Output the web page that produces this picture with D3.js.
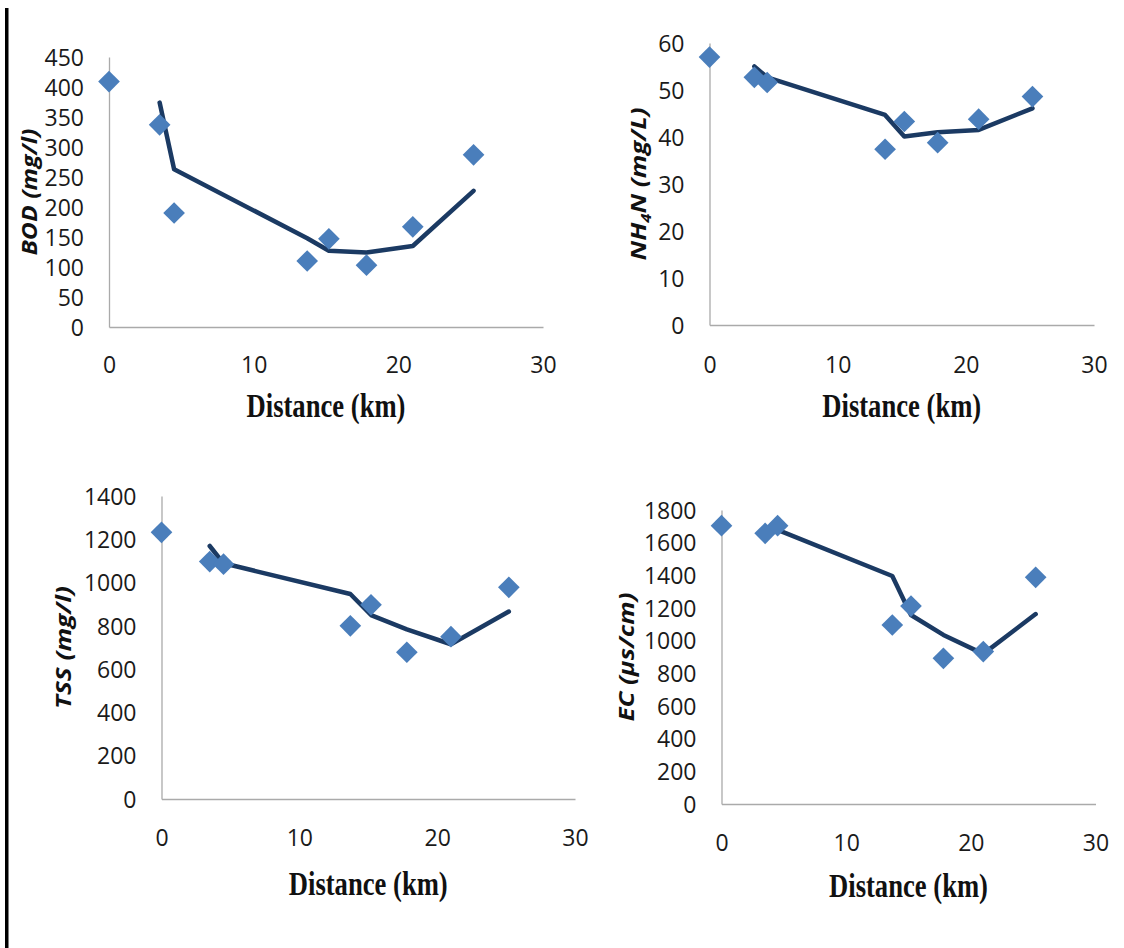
<!DOCTYPE html>
<html>
<head>
<meta charset="utf-8">
<script src="https://cdn.jsdelivr.net/npm/d3@7"></script>
<style>
  body { margin: 0; background: #fff; }
  svg { display: block; }
</style>
</head>
<body>
<div id="chart"></div>
<script>
"use strict";

// sampling points along the river (km)
var distance = [0, 3.5, 4.5, 13.7, 15.2, 17.8, 21.0, 25.2];
var trendDistance = [3.5, 4.5, 13.7, 15.2, 17.8, 21.0, 25.2];
var xTicks = [0, 10, 20, 30];

// measured values
var bod = [409, 337, 190, 110, 147, 103, 167, 287];
var nh4 = [57.0, 52.7, 51.6, 37.4, 43.3, 38.8, 43.8, 48.6];
var tss = [1232, 1097, 1085, 800, 897, 678, 750, 978];
var ec = [1704, 1657, 1704, 1096, 1212, 892, 933, 1388];

// trend lines
var bodTrend = [374, 263, 148, 127, 124, 135, 227];
var nh4Trend = [55.0, 52.7, 44.7, 40.1, 41.0, 41.5, 46.1];
var tssTrend = [1169, 1089, 947, 850, 784, 715, 866];
var ecTrend = [1678, 1678, 1396, 1157, 1035, 919, 1163];

// y tick labels
var bodTicks = [0, 50, 100, 150, 200, 250, 300, 350, 400, 450];
var nh4Ticks = [0, 10, 20, 30, 40, 50, 60];
var tssTicks = [0, 200, 400, 600, 800, 1000, 1200, 1400];
var ecTicks = [0, 200, 400, 600, 800, 1000, 1200, 1400, 1600, 1800];

var W = 1124, H = 948;

var svg = d3.select("#chart").append("svg")
  .attr("width", W)
  .attr("height", H);

// black rule on the left edge
svg.append("rect")
  .attr("x", 5).attr("y", 8)
  .attr("width", 3.5).attr("height", H - 8)
  .attr("fill", "#000");

// panel layout (pixels)
var panels = [
  { x0: 109, x1: 543, y0: 327, y1: 57, ticks: bodTicks, vals: bod, trend: bodTrend,
    title: "BOD (mg/l)", tx: 29, tLen: 127, xlY: 38, xtY: 78 },
  { x0: 709.5, x1: 1094, y0: 325, y1: 43, ticks: nh4Ticks, vals: nh4, trend: nh4Trend,
    title: "nh4", tx: 638, tLen: 153, xlY: 40, xtY: 80 },
  { x0: 161.5, x1: 575, y0: 799, y1: 496, ticks: tssTicks, vals: tss, trend: tssTrend,
    title: "TSS (mg/l)", tx: 63, tLen: 123, xlY: 39, xtY: 84 },
  { x0: 721.5, x1: 1095.5, y0: 804, y1: 510, ticks: ecTicks, vals: ec, trend: ecTrend,
    title: "EC (\u00b5s/cm)", tx: 626, tLen: 129, xlY: 39, xtY: 81 }
];

var diamond = d3.symbol().type(d3.symbolSquare).size(235);
var fmt = d3.format("d");

panels.forEach(function(p) {
  var x = d3.scaleLinear().domain([0, 30]).range([p.x0, p.x1]);
  var y = d3.scaleLinear().domain([0, d3.max(p.ticks)]).range([p.y0, p.y1]);

  var g = svg.append("g");

  // y axis
  var ya = g.append("g")
    .attr("transform", "translate(" + p.x0 + ",0)")
    .call(d3.axisLeft(y).tickValues(p.ticks).tickFormat(fmt)
      .tickSize(0).tickSizeOuter(0).tickPadding(25));
  ya.select(".domain").attr("stroke", "#aaaaaa").attr("stroke-width", 1.3);
  ya.selectAll("text")
    .attr("font-family", "'Open Sans', sans-serif")
    .attr("font-size", "23px")
    .attr("fill", "#1a1a1a")
    .attr("dy", "0.36em");

  // x axis
  var xa = g.append("g")
    .attr("transform", "translate(0," + p.y0 + ")")
    .call(d3.axisBottom(x).tickValues(xTicks).tickFormat(fmt)
      .tickSize(0).tickSizeOuter(0));
  xa.select(".domain").attr("stroke", "#aaaaaa").attr("stroke-width", 1.3);
  xa.selectAll("text")
    .attr("font-family", "'Open Sans', sans-serif")
    .attr("font-size", "23px")
    .attr("fill", "#1a1a1a")
    .attr("y", p.xlY)
    .attr("dy", "0.36em");

  // x title
  g.append("text")
    .attr("x", (p.x0 + p.x1) / 2)
    .attr("y", p.y0 + p.xtY)
    .attr("dy", "0.35em")
    .attr("text-anchor", "middle")
    .attr("font-family", "'Liberation Serif', serif")
    .attr("font-weight", "bold")
    .attr("font-size", "33px")
    .attr("textLength", 159)
    .attr("lengthAdjust", "spacingAndGlyphs")
    .attr("fill", "#111")
    .text("Distance (km)");

  // y title
  var yt = g.append("text")
    .attr("transform", "translate(" + p.tx + "," + ((p.y0 + p.y1) / 2) + ") rotate(-90)")
    .attr("text-anchor", "middle")
    .attr("dy", "0.35em")
    .attr("font-family", "'Open Sans', sans-serif")
    .attr("font-weight", "bold")
    .attr("font-style", "italic")
    .attr("font-size", "22px")
    .attr("textLength", p.tLen)
    .attr("lengthAdjust", "spacingAndGlyphs")
    .attr("fill", "#111");
  if (p.title === "nh4") {
    yt.append("tspan").text("NH");
    yt.append("tspan").attr("font-size", "14px").attr("dy", "5").text("4");
    yt.append("tspan").attr("dy", "-5").text("N (mg/L)");
  } else {
    yt.text(p.title);
  }

  // trend line
  var line = d3.line()
    .x(function(d, i) { return x(trendDistance[i]); })
    .y(function(d) { return y(d); });
  g.append("path")
    .datum(p.trend)
    .attr("d", line)
    .attr("fill", "none")
    .attr("stroke", "#1b3a63")
    .attr("stroke-width", 4.5)
    .attr("stroke-linejoin", "round")
    .attr("stroke-linecap", "round");

  // measured points
  g.selectAll(".pt")
    .data(p.vals)
    .join("path")
      .attr("class", "pt")
      .attr("d", diamond)
      .attr("transform", function(d, i) {
        return "translate(" + x(distance[i]) + "," + y(d) + ") rotate(45)";
      })
      .attr("fill", "#4a7ebb");
});
</script>
</body>
</html>
